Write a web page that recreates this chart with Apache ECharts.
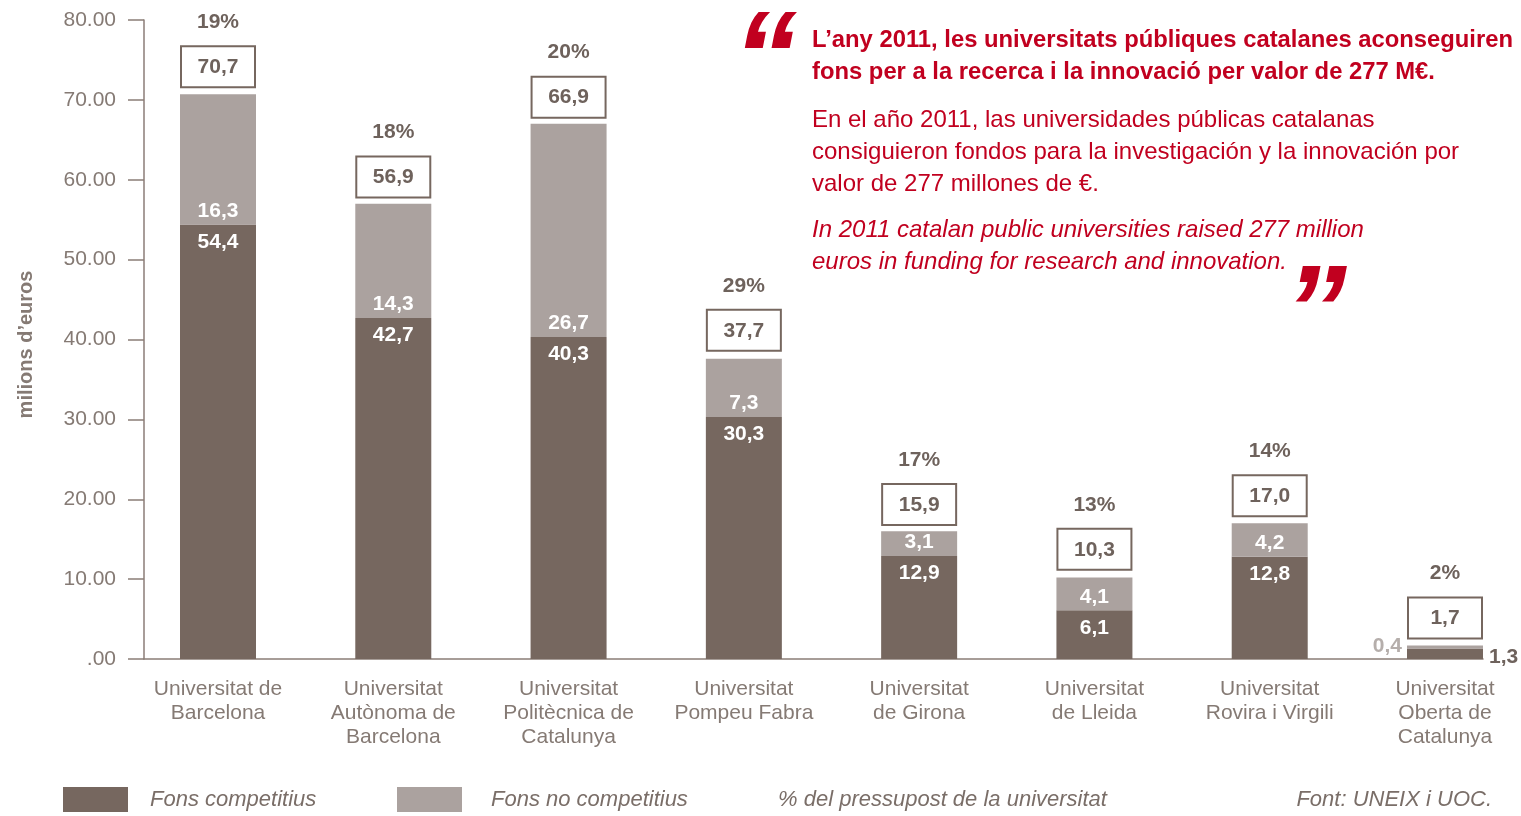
<!DOCTYPE html>
<html>
<head>
<meta charset="utf-8">
<script src="https://cdn.jsdelivr.net/npm/echarts@6/dist/echarts.min.js"></script>
<style>
html,body{margin:0;padding:0;background:#fff;}
#chart{width:1521px;height:816px;}
</style>
</head>
<body>
<div id="chart"></div>
<script>
const categories = [
  "Universitat de\nBarcelona",
  "Universitat\nAutònoma de\nBarcelona",
  "Universitat\nPolitècnica de\nCatalunya",
  "Universitat\nPompeu Fabra",
  "Universitat\nde Girona",
  "Universitat\nde Lleida",
  "Universitat\nRovira i Virgili",
  "Universitat\nOberta de\nCatalunya"
];
const fonsCompetitius = [54.4, 42.7, 40.3, 30.3, 12.9, 6.1, 12.8, 1.3];
const fonsNoCompetitius = [16.3, 14.3, 26.7, 7.3, 3.1, 4.1, 4.2, 0.4];
const totals = [70.7, 56.9, 66.9, 37.7, 15.9, 10.3, 17.0, 1.7];
const pctPressupost = ["19%", "18%", "20%", "29%", "17%", "13%", "14%", "2%"];
const yTicks = [0, 10, 20, 30, 40, 50, 60, 70, 80];

const FONT = "'Liberation Sans', Arial, sans-serif";
const DARK = "#76675f";
const LIGHT = "#aba29f";
const TXT = "#857a74";
const RED = "#c1001f";
const fmt = v => v.toFixed(1).replace('.', ',');
const smallIdx = 7;

const chart = echarts.init(document.getElementById('chart'), null, {renderer: 'canvas'});

const darkData = fonsCompetitius.map((v, i) => i === smallIdx ? {
  value: v,
  label: {position: 'right', distance: 6, color: '#6e625c', offset: [0, 3]}
} : v);
const lightData = fonsNoCompetitius.map((v, i) => i === smallIdx ? {
  value: v,
  label: {position: 'left', distance: 5, color: '#b5aeab', offset: [0, -1]}
} : v);

const option = {
  animation: false,
  grid: [
    {left: 218, right: 76, top: 20, bottom: 157},
    {left: 144, right: 38, top: 20, bottom: 157}
  ],
  xAxis: [
    {
      type: 'category', gridIndex: 0, data: categories, boundaryGap: false,
      axisLine: {show: false}, axisTick: {show: false},
      axisLabel: {color: TXT, fontFamily: FONT, fontSize: 21, lineHeight: 24, margin: 18, interval: 0}
    },
    {
      type: 'category', gridIndex: 1, data: [''],
      axisLine: {show: true, lineStyle: {color: '#8b7d77', width: 1.5}},
      axisTick: {show: false}, axisLabel: {show: false}
    }
  ],
  yAxis: [
    {type: 'value', gridIndex: 0, min: 0, max: 80, interval: 10, show: false},
    {
      type: 'value', gridIndex: 1, min: yTicks[0], max: yTicks[yTicks.length - 1], interval: 10,
      axisLine: {show: true, lineStyle: {color: '#8b7d77', width: 1.5}},
      axisTick: {show: true, length: 16, lineStyle: {color: '#8b7d77', width: 1.5}},
      splitLine: {show: false},
      axisLabel: {
        color: TXT, fontFamily: FONT, fontSize: 21, margin: 28,
        formatter: v => v === 0 ? '.00' : v.toFixed(2)
      },
      name: 'milions d’euros', nameLocation: 'middle', nameRotate: 90, nameGap: 108,
      nameTextStyle: {color: TXT, fontFamily: FONT, fontSize: 20, fontWeight: 'bold', padding: [0, 10, 0, 0]}
    }
  ],
  series: [
    {
      name: 'Fons competitius', type: 'bar', stack: 'total', xAxisIndex: 0, yAxisIndex: 0,
      barWidth: 76, itemStyle: {color: DARK}, data: darkData,
      label: {show: true, position: 'insideTop', distance: 7, color: '#fff', fontFamily: FONT,
        fontSize: 21, fontWeight: 'bold', formatter: p => fmt(p.value)}
    },
    {
      name: 'Fons no competitius', type: 'bar', stack: 'total', xAxisIndex: 0, yAxisIndex: 0,
      barWidth: 76, itemStyle: {color: LIGHT}, data: lightData,
      label: {show: true, position: 'insideBottom', distance: 3, color: '#fff', fontFamily: FONT,
        fontSize: 21, fontWeight: 'bold', formatter: p => fmt(p.value)}
    },
    {
      name: 'Total', type: 'custom', xAxisIndex: 0, yAxisIndex: 0,
      data: totals.map((t, i) => [i, t]),
      encode: {x: 0, y: 1},
      z: 5,
      renderItem: (params, api) => {
        const i = api.value(0);
        const p = api.coord([i, api.value(1)]);
        const boxBottom = p[1] - 6;
        const boxTop = boxBottom - 43;
        return {
          type: 'group',
          children: [
            {type: 'rect', shape: {x: p[0] - 37, y: boxTop + 1, width: 74, height: 41},
              style: {fill: '#fff', stroke: DARK, lineWidth: 2}},
            {type: 'text', style: {text: fmt(totals[i]), x: p[0], y: boxTop + 22, align: 'center',
              verticalAlign: 'middle', font: 'bold 21px ' + FONT, fill: '#6e625c'}},
            {type: 'text', style: {text: pctPressupost[i], x: p[0], y: boxTop - 23, align: 'center',
              verticalAlign: 'middle', font: 'bold 21px ' + FONT, fill: '#6e625c'}}
          ]
        };
      }
    }
  ],
  legend: [
    {data: ['Fons competitius'], left: 63, top: 787, padding: 0, itemWidth: 65, itemHeight: 25, icon: 'rect',
      textStyle: {color: '#7a6e68', fontFamily: FONT, fontSize: 22, fontStyle: 'italic', padding: [0, 0, 0, 17]},
      selectedMode: false},
    {data: ['Fons no competitius'], left: 397, top: 787, padding: 0, itemWidth: 65, itemHeight: 25, icon: 'rect',
      textStyle: {color: '#7a6e68', fontFamily: FONT, fontSize: 22, fontStyle: 'italic', padding: [0, 0, 0, 24]},
      selectedMode: false}
  ],
  graphic: [
    {type: 'text', x: 778, y: 800, style: {text: '% del pressupost de la universitat', fill: '#7a6e68',
      font: 'italic 22px ' + FONT, verticalAlign: 'middle'}},
    {type: 'text', x: 1492, y: 800, style: {text: 'Font: UNEIX i UOC.', fill: '#7a6e68',
      font: 'italic 22px ' + FONT, verticalAlign: 'middle', align: 'right'}},
    {type: 'text', x: 733, y: 1, style: {text: '“', fill: RED, font: 'italic bold 128px ' + FONT}},
    {type: 'text', x: 1284, y: 255, style: {text: '”', fill: RED, font: 'italic bold 126px ' + FONT}},
    {type: 'text', x: 812, y: 40, style: {text: 'L’any 2011, les universitats públiques catalanes aconseguiren',
      fill: RED, font: 'bold 23.8px ' + FONT, verticalAlign: 'middle'}},
    {type: 'text', x: 812, y: 72, style: {text: 'fons per a la recerca i la innovació per valor de 277 M€.',
      fill: RED, font: 'bold 23.8px ' + FONT, verticalAlign: 'middle'}},
    {type: 'text', x: 812, y: 120, style: {text: 'En el año 2011, las universidades públicas catalanas',
      fill: RED, font: '24px ' + FONT, verticalAlign: 'middle'}},
    {type: 'text', x: 812, y: 152, style: {text: 'consiguieron fondos para la investigación y la innovación por',
      fill: RED, font: '24px ' + FONT, verticalAlign: 'middle'}},
    {type: 'text', x: 812, y: 184, style: {text: 'valor de 277 millones de €.',
      fill: RED, font: '24px ' + FONT, verticalAlign: 'middle'}},
    {type: 'text', x: 812, y: 230, style: {text: 'In 2011 catalan public universities raised 277 million',
      fill: RED, font: 'italic 24px ' + FONT, verticalAlign: 'middle'}},
    {type: 'text', x: 812, y: 262, style: {text: 'euros in funding for research and innovation.',
      fill: RED, font: 'italic 24px ' + FONT, verticalAlign: 'middle'}}
  ]
};
chart.setOption(option);
</script>
</body>
</html>
